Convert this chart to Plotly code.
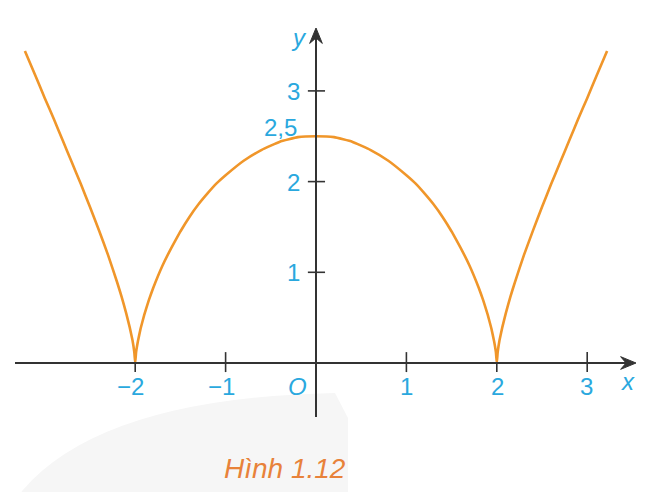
import plotly.graph_objects as go

# Curve points (x, y)
curve_x = [-3.22, -3.1, -3.0, -2.9, -2.8, -2.7, -2.6, -2.5, -2.4, -2.3, -2.2, -2.15, -2.1, -2.06, -2.03, -2.01, -2.0,
           -1.99, -1.97, -1.94, -1.9, -1.85, -1.8, -1.7, -1.6, -1.5, -1.4, -1.3, -1.2, -1.1, -1.0, -0.8, -0.6, -0.4, -0.2, 0.0,
           0.2, 0.4, 0.6, 0.8, 1.0, 1.1, 1.2, 1.3, 1.4, 1.5, 1.6, 1.7, 1.8, 1.85, 1.9, 1.94, 1.97, 1.99,
           2.0, 2.01, 2.03, 2.06, 2.1, 2.15, 2.2, 2.3, 2.4, 2.5, 2.6, 2.7, 2.8, 2.9, 3.0, 3.1, 3.22]
curve_y = [3.44, 3.16, 2.92, 2.69, 2.45, 2.21, 1.97, 1.72, 1.46, 1.19, 0.89, 0.73, 0.55, 0.39, 0.25, 0.12, 0.0,
           0.12, 0.24, 0.38, 0.53, 0.69, 0.83, 1.07, 1.27, 1.45, 1.61, 1.75, 1.87, 1.98, 2.07, 2.23, 2.35, 2.44, 2.49, 2.50,
           2.49, 2.44, 2.35, 2.23, 2.07, 1.98, 1.87, 1.75, 1.61, 1.45, 1.27, 1.07, 0.83, 0.69, 0.53, 0.38, 0.24, 0.12,
           0.0, 0.12, 0.25, 0.39, 0.55, 0.73, 0.89, 1.19, 1.46, 1.72, 1.97, 2.21, 2.45, 2.69, 2.92, 3.16, 3.44]

x_ticks = [-2, -1, 1, 2, 3]
x_tick_labels = ["\u22122", "\u22121", "1", "2", "3"]
y_ticks = [1, 2, 3]
y_tick_labels = ["1", "2", "3"]
peak_label = "2,5"
caption = "Hình 1.12"

W, H = 660, 492
OFF = 8  # page body margin offset
X0PX, XS = 316.0 - OFF, 90.4
Y0PX, YS = 363.0 - OFF, 90.7
xr = [(0 - X0PX) / XS, (W - X0PX) / XS]
yr = [(Y0PX - H) / YS, Y0PX / YS]

def px2x(px):
    return (px - OFF - X0PX) / XS

def py2y(py):
    return (Y0PX - (py - OFF)) / YS

AX = "#333333"
BLUE = "#2aa8de"
ORANGE = "#f0962a"

fig = go.Figure()

shapes = []
# faint watermark swoosh
shapes.append(dict(type="path", xref="x", yref="y", layer="below",
                   path=(f"M {px2x(15)},{py2y(500)} Q {px2x(90)},{py2y(398)} {px2x(335)},{py2y(393)} "
                         f"L {px2x(348)},{py2y(418)} L {px2x(348)},{py2y(500)} Z"),
                   fillcolor="#f6f6f6", line=dict(width=0)))

# x axis
x_tip = px2x(636)
shapes.append(dict(type="line", x0=px2x(15), y0=0, x1=x_tip - 0.05, y1=0, line=dict(color=AX, width=2)))
shapes.append(dict(type="path", path=f"M {x_tip},0 L {x_tip-0.17},{0.07} L {x_tip-0.11},0 L {x_tip-0.17},{-0.07} Z",
                   fillcolor=AX, line=dict(color=AX, width=1)))
# y axis
y_tip = py2y(28)
shapes.append(dict(type="line", x0=0, y0=py2y(417), x1=0, y1=y_tip - 0.05, line=dict(color=AX, width=2)))
shapes.append(dict(type="path", path=f"M 0,{y_tip} L {0.07},{y_tip-0.17} L 0,{y_tip-0.11} L {-0.07},{y_tip-0.17} Z",
                   fillcolor=AX, line=dict(color=AX, width=1)))

# ticks
for t in x_ticks:
    if abs(t) == 2:
        shapes.append(dict(type="line", x0=t, y0=0, x1=t, y1=-0.1, line=dict(color=AX, width=1.6)))
    else:
        shapes.append(dict(type="line", x0=t, y0=-0.1, x1=t, y1=0.12, line=dict(color=AX, width=1.6)))
for t in y_ticks:
    shapes.append(dict(type="line", x0=-0.09, y0=t, x1=0.1, y1=t, line=dict(color=AX, width=1.6)))

fig.add_trace(go.Scatter(x=curve_x, y=curve_y, mode="lines",
                         line=dict(color=ORANGE, width=2.6, shape="spline", smoothing=0.3),
                         hoverinfo="skip", showlegend=False))

FONT = "Liberation Sans, Arial, sans-serif"
ann = []

def label(px, py, text, color=BLUE, size=24, xanchor="center"):
    ann.append(dict(x=(px - OFF) / W, y=1 - (py - OFF) / H, xref="paper", yref="paper", text=text, showarrow=False,
                    xanchor=xanchor, yanchor="middle", font=dict(family=FONT, size=size, color=color)))

x_label_px = [130, 221, 407, 497, 586]
for px, t in zip(x_label_px, x_tick_labels):
    label(px, 386, t)
label(297, 386, "<i>O</i>")
label(628, 381, "<i>x</i>")
label(299, 37, "<i>y</i>")
y_label_py = [272, 182, 91]
for py, t in zip(y_label_py, y_tick_labels):
    label(293, py, t)
label(280, 127, peak_label)
label(285, 468, "<i>" + caption + "</i>", color="#e8823a", size=28)

fig.update_layout(width=W, height=H, margin=dict(l=0, r=0, t=0, b=0),
                  paper_bgcolor="white", plot_bgcolor="white",
                  xaxis=dict(range=xr, visible=False, fixedrange=True),
                  yaxis=dict(range=yr, visible=False, fixedrange=True),
                  shapes=shapes, annotations=ann, showlegend=False)

fig.write_html("out.html")
